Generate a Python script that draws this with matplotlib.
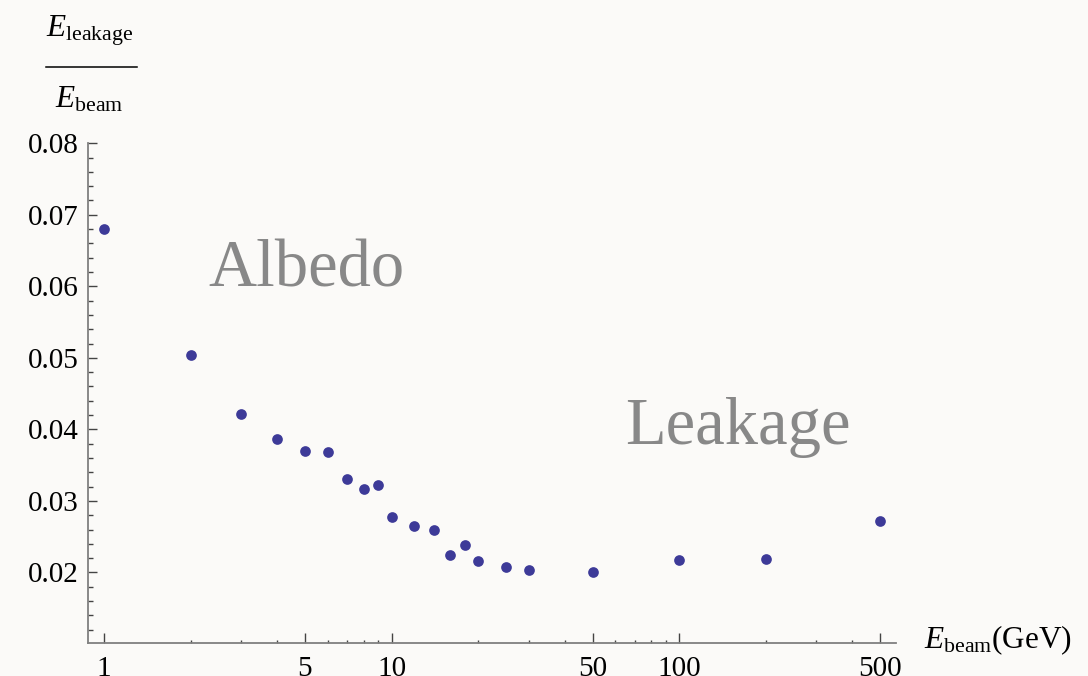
import matplotlib
matplotlib.use('Agg')
import matplotlib.pyplot as plt
from matplotlib.lines import Line2D
from matplotlib.ticker import FixedLocator, NullFormatter, FuncFormatter

plt.rcParams['font.family'] = ['Liberation Serif', 'DejaVu Serif']
plt.rcParams['mathtext.fontset'] = 'custom'
plt.rcParams['mathtext.rm'] = 'Liberation Serif'
plt.rcParams['mathtext.it'] = 'Liberation Serif:italic'

# energia del haz (GeV) y fraccion de fuga
e_beam = [1, 2, 3, 4, 5, 6, 7, 8, 9, 10, 12, 14, 16, 18, 20, 25, 30, 50, 100, 200, 500]
fraccion = [0.0680, 0.0504, 0.0422, 0.0386, 0.0370, 0.0369, 0.0330, 0.0316, 0.0322,
            0.0277, 0.0265, 0.0260, 0.0225, 0.0238, 0.0216, 0.0207, 0.0204, 0.0201,
            0.0217, 0.0219, 0.0272]

x_major = [1, 5, 10, 50, 100, 500]
x_minor = [2, 3, 4, 6, 7, 8, 9, 20, 30, 40, 60, 70, 80, 90, 200, 300, 400]
y_major = [0.02, 0.03, 0.04, 0.05, 0.06, 0.07, 0.08]
y_minor = [0.012 + 0.002 * i for i in range(35)]

W, H = 1088, 676
fondo = '#fbfaf8'
fig = plt.figure(figsize=(W / 100, H / 100), dpi=100, facecolor=fondo)
ax = fig.add_axes([88 / W, 32.7 / H, 808 / W, 500.1 / H], facecolor=fondo)

ax.plot(e_beam, fraccion, 'o', color='#3d3a98', markersize=7.7, markeredgewidth=0)

ax.set_xscale('log')
ax.set_xlim(0.88, 568)
ax.set_ylim(0.0101, 0.08)

ax.xaxis.set_major_locator(FixedLocator(x_major))
ax.xaxis.set_minor_locator(FixedLocator(x_minor))
ax.xaxis.set_major_formatter(FuncFormatter(lambda v, p: f'{v:g}'))
ax.xaxis.set_minor_formatter(NullFormatter())
ax.yaxis.set_major_locator(FixedLocator(y_major))
ax.yaxis.set_minor_locator(FixedLocator([v for v in y_minor if v < 0.0801]))
ax.yaxis.set_major_formatter(FuncFormatter(lambda v, p: f'{v:.2f}'))

for s in ['top', 'right']:
    ax.spines[s].set_visible(False)
for s in ['left', 'bottom']:
    ax.spines[s].set_color('#808080')
    ax.spines[s].set_linewidth(1.3)

ax.tick_params(which='both', direction='in', colors='#444444', labelcolor='black', labelsize=21)
ax.tick_params(axis='x', which='major', length=7, width=1, pad=9)
ax.tick_params(axis='x', which='minor', length=2.2, width=1)
ax.tick_params(axis='y', which='major', length=6.5, width=1, pad=7)
ax.tick_params(axis='y', which='minor', length=3.6, width=1)

ax.text(2.3, 0.060, 'Albedo', fontsize=48, color='#888888', ha='left', va='baseline')
ax.text(65, 0.038, 'Leakage', fontsize=48, color='#888888', ha='left', va='baseline')

# etiqueta del eje y como fraccion
fig.text(89.5 / W, 1 - 37 / H, r'$E_{\mathrm{leakage}}$', fontsize=22.5, ha='center', va='baseline')
fig.text(89 / W, 1 - 108 / H, r'$E_{\mathrm{beam}}$', fontsize=22.5, ha='center', va='baseline')
fig.add_artist(Line2D([45.7 / W, 137 / W], [1 - 66.7 / H, 1 - 66.7 / H],
                      transform=fig.transFigure, color='black', lw=1.1))

fig.text(924 / W, 1 - 648 / H, r'$E_{\mathrm{beam}}$(GeV)', fontsize=22.5, ha='left', va='baseline')

fig.savefig('out.png', dpi=100, facecolor=fondo)
